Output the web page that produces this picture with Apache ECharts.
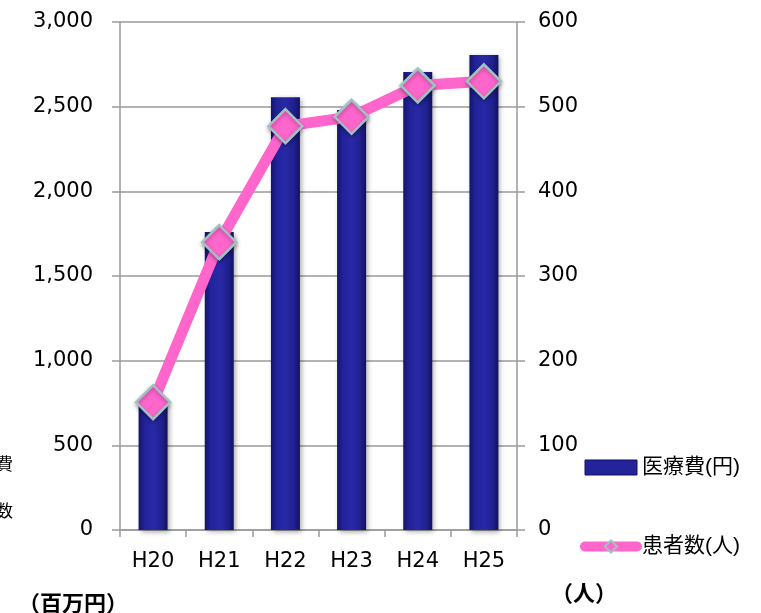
<!DOCTYPE html>
<html><head><meta charset="utf-8">
<script src="https://cdn.jsdelivr.net/npm/echarts@6/dist/echarts.min.js"></script>
<style>html,body{margin:0;padding:0;background:#fff}#c{width:761px;height:613px}</style>
</head><body><div id="c"></div>
<script>
var categories = ['H20','H21','H22','H23','H24','H25'];
var medicalCost = [750, 1760, 2555, 2480, 2705, 2805];
var patients = [151, 340, 477, 488, 525, 530];
var leftTicks = [0, 500, 1000, 1500, 2000, 2500, 3000];
var rightTicks = [0, 100, 200, 300, 400, 500, 600];

var chart = echarts.init(document.getElementById('c'));
var font = '"DejaVu Sans", "Noto Sans CJK JP", sans-serif';
var cjk = '"Liberation Sans", "Noto Sans CJK JP", sans-serif';
var gray = '#9a9a9a';
chart.setOption({
  animation: false,
  textStyle: {fontFamily: font},
  grid: {left: 120, right: 244, top: 22, bottom: 83},
  legend: {
    orient: 'vertical', left: 575, top: 452, itemGap: 58,
    itemWidth: 52, itemHeight: 15,
    textStyle: {fontSize: 21, color: '#000', fontFamily: cjk},
    data: [
      {name: '医療費(円)', icon: 'rect', itemStyle: {color: '#24249a', borderColor: '#101060', borderWidth: 1}},
      {name: '患者数(人)', lineStyle: {width: 10, color: '#ff66cc', cap: 'round'},
       itemStyle: {color: '#ff66cc', borderColor: '#9fc2c2', borderWidth: 2}}
    ]
  },
  xAxis: {
    type: 'category', data: categories,
    axisLine: {lineStyle: {color: gray, width: 1.5}},
    axisTick: {show: true, length: 7, lineStyle: {color: gray, width: 1.5}},
    axisLabel: {fontSize: 21, color: '#000', margin: 21, fontFamily: font}
  },
  yAxis: [
    {type: 'value', min: leftTicks[0], max: leftTicks[leftTicks.length-1], interval: 500,
     axisLine: {show: true, lineStyle: {color: gray, width: 1.5}},
     axisTick: {show: true, length: 8, lineStyle: {color: gray, width: 1.5}},
     splitLine: {lineStyle: {color: gray, width: 1.5}},
     axisLabel: {fontSize: 21, color: '#000', margin: 27, fontFamily: font,
       formatter: function(v){ return v.toLocaleString('en-US'); }}},
    {type: 'value', min: rightTicks[0], max: rightTicks[rightTicks.length-1], interval: 100,
     position: 'right',
     axisLine: {show: true, lineStyle: {color: gray, width: 1.5}},
     axisTick: {show: true, length: 8, lineStyle: {color: gray, width: 1.5}},
     splitLine: {show: false},
     axisLabel: {fontSize: 21, color: '#000', margin: 21, fontFamily: font}}
  ],
  series: [
    {name: '医療費(円)', type: 'bar', data: medicalCost, barWidth: 29, yAxisIndex: 0,
     itemStyle: {
       color: new echarts.graphic.LinearGradient(0,0,1,0,[
         {offset: 0, color: '#14146a'}, {offset: 0.2, color: '#22229a'},
         {offset: 0.5, color: '#2929a8'}, {offset: 0.8, color: '#20208f'},
         {offset: 1, color: '#121260'}]),
       shadowColor: 'rgba(0,0,0,0.35)', shadowBlur: 5, shadowOffsetX: 2, shadowOffsetY: 2
     }},
    {name: '患者数(人)', type: 'line', data: patients, yAxisIndex: 1,
     lineStyle: {color: '#ff66cc', width: 11},
     symbol: 'diamond', symbolSize: 34,
     itemStyle: {color: '#ff66cc', borderColor: '#9fc2c2', borderWidth: 2.5,
       shadowColor: 'rgba(0,0,0,0.3)', shadowBlur: 4, shadowOffsetY: 2}}
  ],
  graphic: [
    {type: 'text', right: 748, top: 457, style: {text: '医療費', fontSize: 17, fill: '#000', fontFamily: cjk, align: 'right'}},
    {type: 'text', right: 748, top: 504, style: {text: '患者数', fontSize: 17, fill: '#000', fontFamily: cjk, align: 'right'}},
    {type: 'text', left: 18, top: 594, style: {text: '（百万円）', fontSize: 22, fontWeight: 'bold', fill: '#000', fontFamily: cjk}},
    {type: 'text', left: 551, top: 584, style: {text: '（人）', fontSize: 22, fontWeight: 'bold', fill: '#000', fontFamily: cjk}}
  ]
});
</script></body></html>
